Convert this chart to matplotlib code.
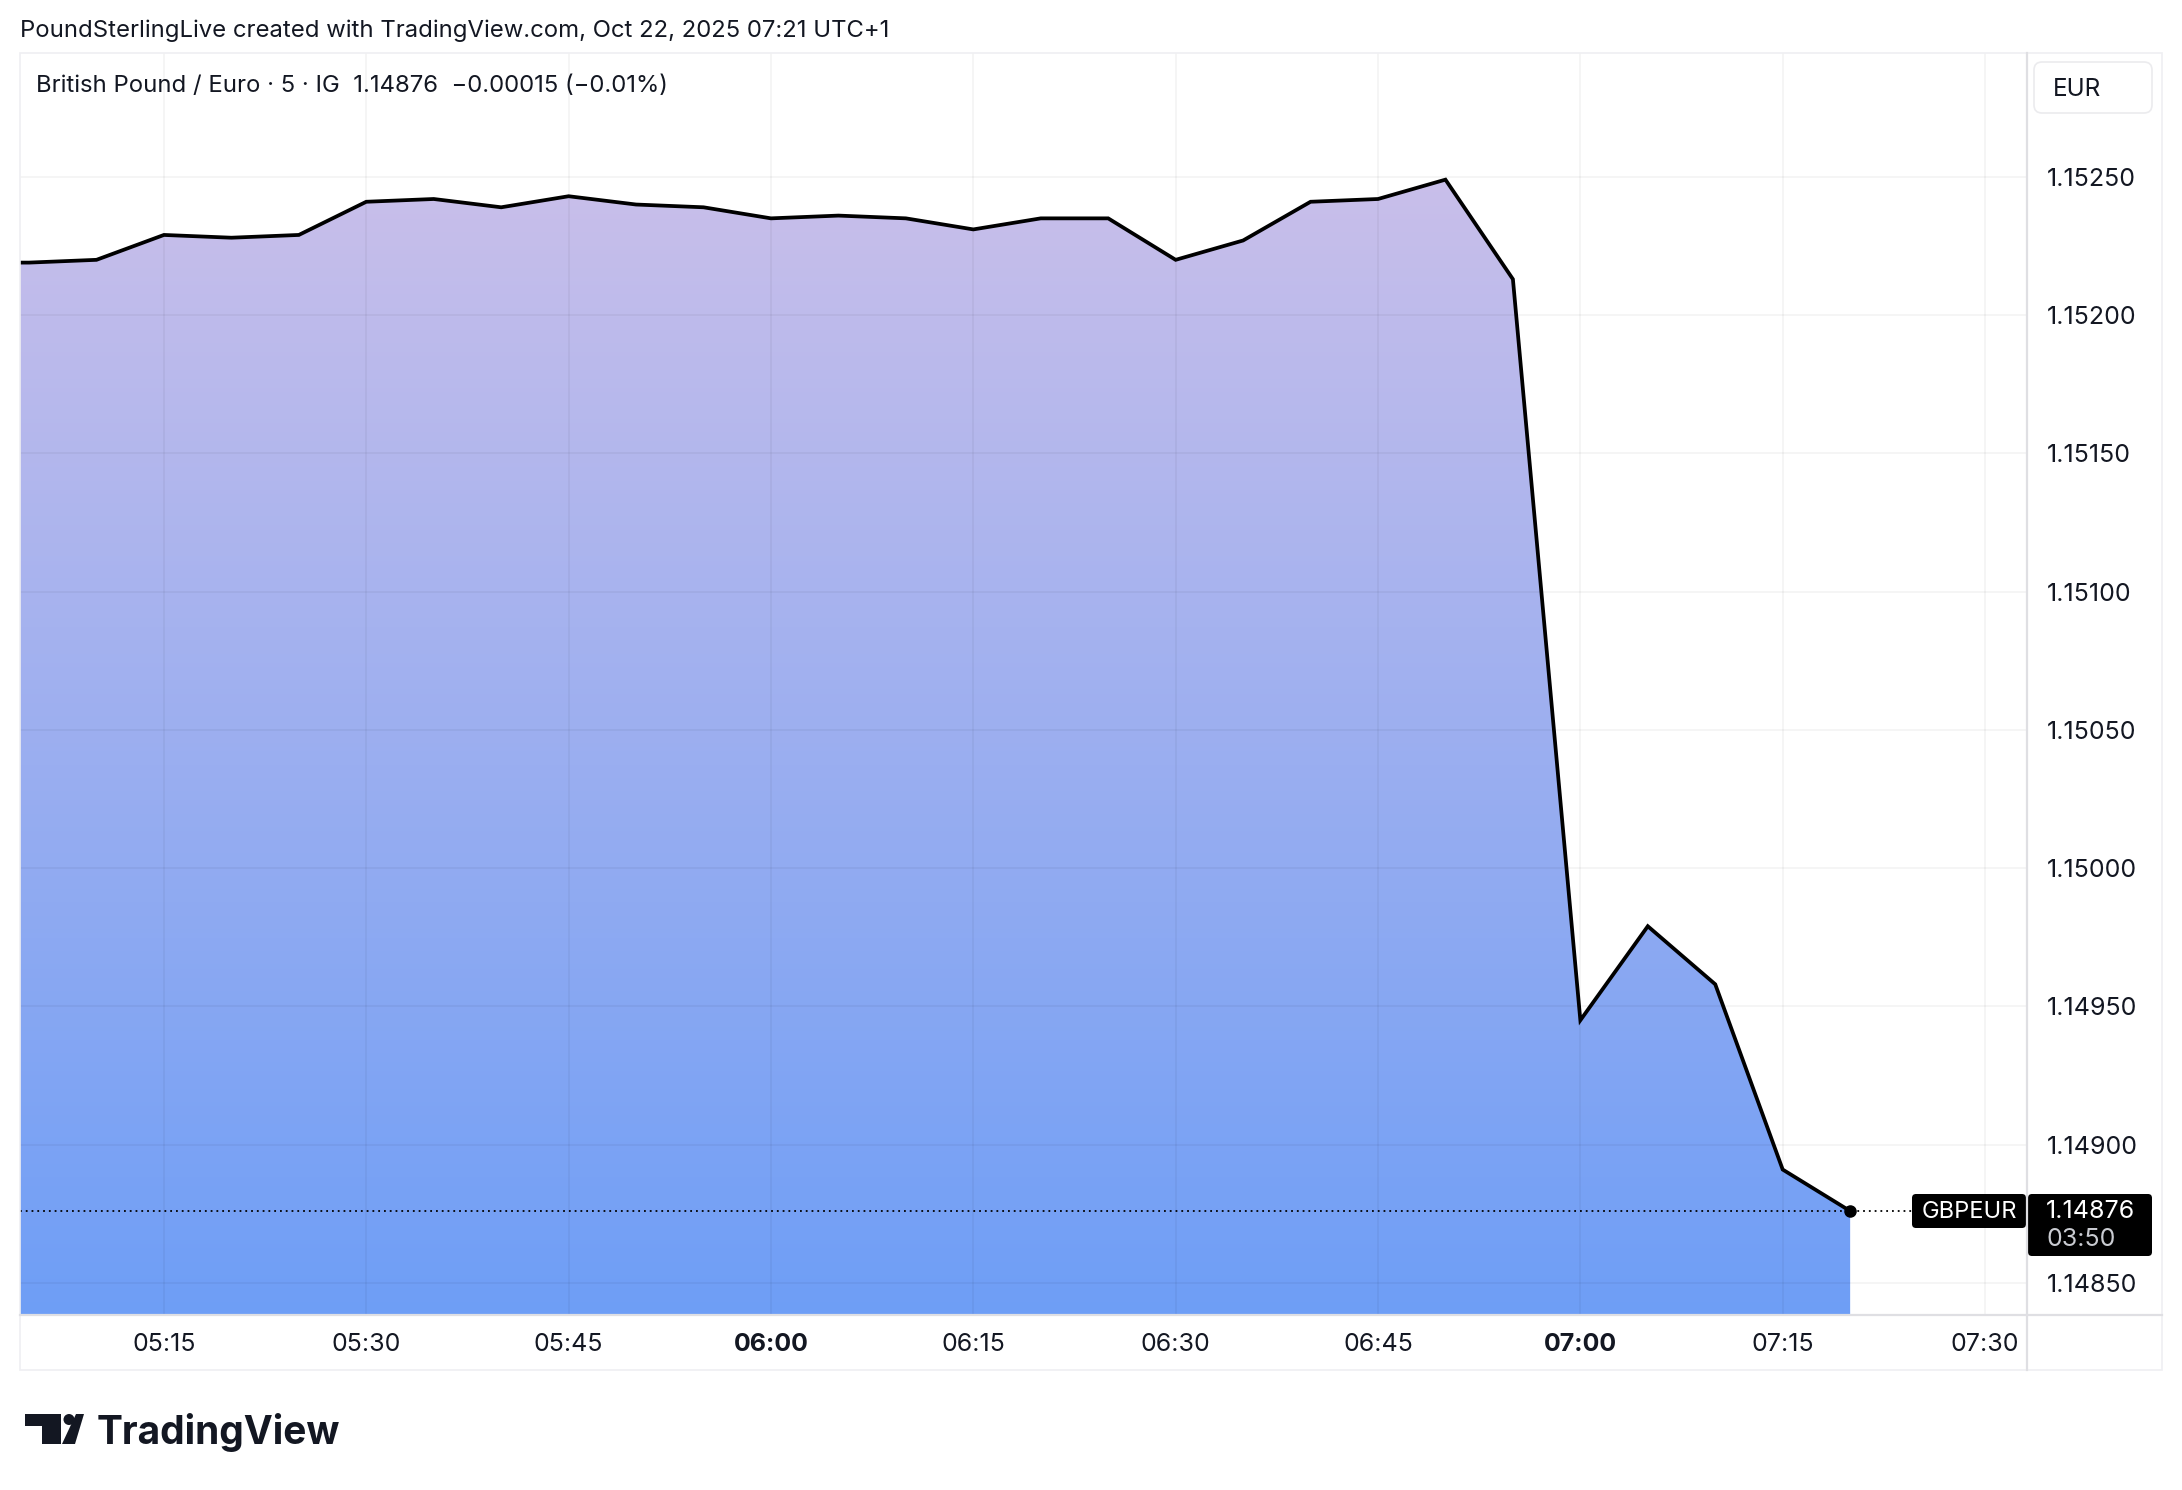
import matplotlib
matplotlib.use("Agg")
import matplotlib.pyplot as plt
import numpy as np
from matplotlib.patches import Rectangle, FancyBboxPatch, Polygon, Circle
from matplotlib.colors import LinearSegmentedColormap

plt.rcParams['font.family'] = ['Inter', 'DejaVu Sans']

# ---------------- data ----------------
times = ["05:00", "05:05", "05:10", "05:15", "05:20", "05:25", "05:30", "05:35",
         "05:40", "05:45", "05:50", "05:55", "06:00", "06:05", "06:10", "06:15",
         "06:20", "06:25", "06:30", "06:35", "06:40", "06:45", "06:50", "06:55",
         "07:00", "07:05", "07:10", "07:15", "07:20"]
gbpeur = [1.15219, 1.15219, 1.15220, 1.15229, 1.15228, 1.15229, 1.15241, 1.15242,
          1.15239, 1.15243, 1.15240, 1.15239, 1.15235, 1.15236, 1.15235, 1.15231,
          1.15235, 1.15235, 1.15220, 1.15227, 1.15241, 1.15242, 1.15249, 1.15213,
          1.14945, 1.14979, 1.14958, 1.14891, 1.14876]
time_ticks = ["05:15", "05:30", "05:45", "06:00", "06:15", "06:30", "06:45",
              "07:00", "07:15", "07:30"]
bold_ticks = ["06:00", "07:00"]
price_ticks = [1.14850, 1.14900, 1.14950, 1.15000, 1.15050, 1.15100, 1.15150,
               1.15200, 1.15250]
header = "PoundSterlingLive created with TradingView.com, Oct 22, 2025 07:21 UTC+1"
legend = "British Pound / Euro \u00b7 5 \u00b7 IG  1.14876  \u22120.00015 (\u22120.01%)"
symbol = "GBPEUR"
last_price = "1.14876"
countdown = "03:50"
currency = "EUR"


def to_min(t):
    h, m = t.split(":")
    return (int(h) - 5) * 60 + int(m)


x = np.array([to_min(t) for t in times], dtype=float)
y = np.array(gbpeur)

W, H = 2182, 1490
fig = plt.figure(figsize=(W / 100, H / 100), dpi=100)
fig.patch.set_facecolor("white")

L, R, T, B = 20, 2027, 53, 1315
ax = fig.add_axes([L / W, 1 - B / H, (R - L) / W, (B - T) / H])
ax.set_facecolor("white")
xmin, xmax = 4.33, 153.11
ymin, ymax = 1.148384, 1.152948
ax.set_xlim(xmin, xmax)
ax.set_ylim(ymin, ymax)

# gradient fill
top_c = np.array([201, 191, 234]) / 255
bot_c = np.array([110, 158, 246]) / 255
cmap = LinearSegmentedColormap.from_list("g", [bot_c, top_c])
grad = np.linspace(1, 0, 256).reshape(-1, 1)
poly = ax.fill_between(x, y, ymin, facecolor="none", edgecolor="none")
im = ax.imshow(grad, cmap=cmap, extent=[xmin, xmax, ymin, y.max()],
               aspect="auto", origin="upper", zorder=1)
im.set_clip_path(poly.get_paths()[0], transform=ax.transData)

# grid
for t in time_ticks:
    ax.axvline(to_min(t), color=(0, 0, 0, 0.05), lw=1.1, zorder=2)
for p in price_ticks:
    ax.axhline(p, color=(0, 0, 0, 0.05), lw=1.1, zorder=2)

# line
ax.plot(x, y, color="black", lw=2.7, zorder=4, solid_joinstyle="miter")
ax.axhline(y[-1], color="black", lw=1.3, ls=(0, (1, 2.2)), zorder=3)
ax.plot([x[-1]], [y[-1]], "o", color="black", ms=8, zorder=5)

# ticks
ax.yaxis.tick_right()
ax.set_yticks(price_ticks)
ax.set_yticklabels([f"{p:.5f}" for p in price_ticks], fontsize=18, color="#131722")
ax.tick_params(axis="y", length=0, pad=14.5)
ax.set_xticks([to_min(t) for t in time_ticks])
ax.set_xticklabels(time_ticks, fontsize=18, color="#131722")
for lab in ax.get_xticklabels():
    if lab.get_text() in bold_ticks:
        lab.set_fontweight("bold")
ax.tick_params(axis="x", length=0, pad=13)
for s in ax.spines.values():
    s.set_visible(False)

# ---------------- overlay decorations (pixel coords) ----------------
ov = fig.add_axes([0, 0, 1, 1], zorder=10)
ov.set_xlim(0, W)
ov.set_ylim(H, 0)
ov.axis("off")
ov.patch.set_alpha(0)

ov.add_patch(Rectangle((L, T), 2162 - L, 1370 - T, fill=False,
                       edgecolor="#EFEFF2", lw=1.2))
ov.plot([L, 2162], [B, B], color="#DFDFE3", lw=1.6)
ov.plot([R, R], [T, 1370], color="#DFDFE3", lw=1.6)

ov.text(20, 31, header, fontsize=17.2, color="#131722", va="center", ha="left")
ov.text(36, 86, legend, fontsize=17.2, color="#131722", va="center", ha="left")

ov.add_patch(FancyBboxPatch((2034, 62), 118, 51,
                            boxstyle="round,pad=0,rounding_size=8",
                            facecolor="white", edgecolor="#EBEBEE", lw=1.2))
ov.text(2053, 89, currency, fontsize=17.5, color="#131722", va="center", ha="left")

# last price labels
ov.add_patch(FancyBboxPatch((1912, 1194), 114, 34,
                            boxstyle="round,pad=0,rounding_size=4",
                            facecolor="black", edgecolor="none"))
ov.text(1969, 1212, symbol, fontsize=17, color="white", va="center", ha="center")
ov.add_patch(FancyBboxPatch((2028, 1194), 124, 62,
                            boxstyle="round,pad=0,rounding_size=4",
                            facecolor="black", edgecolor="none"))
ov.text(2046, 1212, last_price, fontsize=18, color="white", va="center", ha="left")
ov.text(2046, 1239, countdown, fontsize=18, color="#C9CBD1", va="center", ha="left")

# TradingView logo
ov.add_patch(Rectangle((24.5, 1414), 36, 12, facecolor="#131722", edgecolor="none"))
ov.add_patch(Rectangle((42, 1414), 18.5, 30, facecolor="#131722", edgecolor="none"))
ov.add_patch(Circle((69, 1419.5), 5.5, facecolor="#131722", edgecolor="none"))
ov.add_patch(Polygon([(62, 1444), (75, 1444), (84, 1414), (76, 1414)],
                     closed=True, facecolor="#131722", edgecolor="none"))
ov.text(97, 1444, "TradingView", fontsize=28, fontweight="bold", color="#131722",
        va="baseline", ha="left")

fig.savefig("out.png", dpi=100)
